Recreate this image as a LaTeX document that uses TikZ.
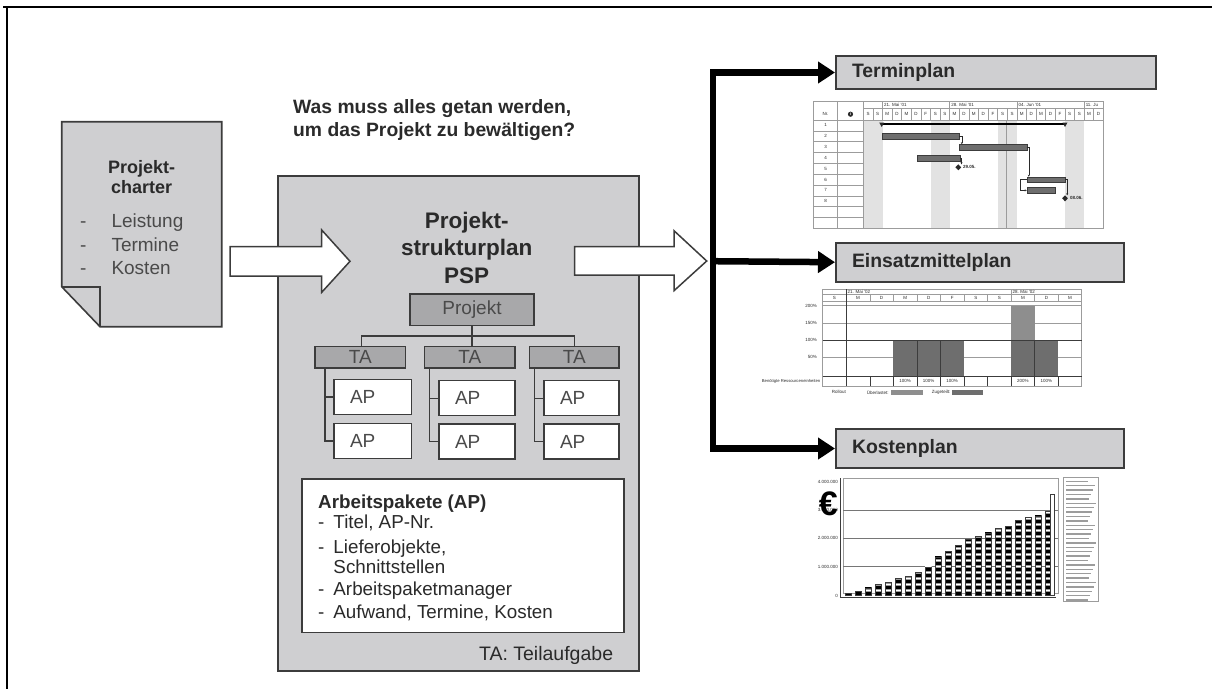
\documentclass[tikz,border=0pt]{standalone}
\usepackage{fontspec}
\setmainfont{Liberation Sans}
\usetikzlibrary{arrows.meta,calc}
\definecolor{boxgray}{HTML}{CFCFD1}
\definecolor{darkgraytwo}{HTML}{A8A8AA}
\definecolor{edge}{HTML}{3C3C3C}
\definecolor{ink}{HTML}{2A2A2A}
\definecolor{softink}{HTML}{4A4A4A}
\definecolor{chartline}{HTML}{9C9C9C}
\definecolor{weekend}{HTML}{E2E2E2}
\definecolor{barg}{HTML}{6E6E6E}
\definecolor{overg}{HTML}{8E8E8E}
\newcommand\myfs[1]{\fontsize{#1}{#1}\selectfont}
\begin{document}
\begin{tikzpicture}[x=1pt,y=-1pt,
 gbox/.style={draw=edge,fill=boxgray,line width=1.6pt},
 tbox/.style={draw=edge,fill=darkgraytwo,line width=1.4pt,inner sep=0pt,font=\myfs{19},text=softink,anchor=north west},
 apbox/.style={draw=edge,fill=white,line width=1.4pt,inner sep=0pt,anchor=north west,align=left,font=\myfs{19},text=softink,inner xsep=16pt},
 hdr/.style={draw=edge,fill=boxgray,line width=2pt,anchor=north west,align=left,inner xsep=16pt,inner ysep=0pt,font=\bfseries\myfs{19.4},text=ink},
 tree/.style={draw=edge,line width=1.2pt},
 blockarrow/.style={draw=edge,fill=white,line width=1.5pt,line join=miter},
 bigconn/.style={line width=6.5pt,line join=miter,-{Triangle[length=17pt,width=21pt]}},
 cl/.style={draw=chartline,line width=0.6pt},
 tiny/.style={font=\myfs{4.5},inner sep=0pt,text=ink},
 gbar/.style={fill=barg,draw=edge,line width=0.4pt},
 dep/.style={draw=ink,line width=0.5pt,-{Stealth[length=2pt,width=2pt]}},
]
\useasboundingbox (0,0) rectangle (1212,689);
% frame
\draw[line width=2.2pt] (3,7) -- (1212,7);
\draw[line width=2.2pt] (7,6) -- (7,689);

% ---------------- Projektcharter document
\draw[gbox,line join=miter] (61.7,121.7) -- (221.7,121.7) -- (221.7,326.7) -- (100,326.7) -- (61.7,286.7) -- cycle;
\draw[draw=edge,line width=1.6pt] (61.7,286.7) -- (100,286.7) -- (100,326.7);
\node[font=\bfseries\fontsize{18}{20}\selectfont,align=center,text=ink] (charter) at (141.7,176.7) {Projekt-\\charter};
\node[anchor=west,inner sep=0pt,font=\fontsize{19}{23.5}\selectfont,text=softink] (chlist) at (80,246.7)
 {\begin{tabular}{@{}l@{\hspace{25pt}}l@{}}-&Leistung\\-&Termine\\-&Kosten\end{tabular}};

% ---------------- question
\node[anchor=west,align=left,inner sep=0pt,font=\bfseries\fontsize{19.3}{23.7}\selectfont,text=ink] (question) at (293,120)
 {Was muss alles getan werden,\\um das Projekt zu bewältigen?};

% ---------------- PSP box
\node[gbox,anchor=north west,minimum width=361pt,minimum height=495pt,inner sep=0pt] (psp) at (277,175) {};
\node[font=\bfseries\fontsize{22.5}{27.5}\selectfont,align=center,text=ink] (psptitle) at (466.7,247.5) {Projekt-\\strukturplan\\PSP};

% block arrows
\coordinate (a1s) at (230,261.3);
\coordinate (a1t) at (350,261.3);
\draw[blockarrow] (a1s) ++(0,-14.6) -- ++(91.7,0) -- ++(0,-16.7) -- (a1t) -- ++(-28.3,31) -- ++(0,-16.3) -- ++(-91.7,0) -- cycle;
\coordinate (a2s) at (574.5,261);
\coordinate (a2t) at (706.7,261);
\draw[blockarrow] (a2s) ++(0,-14.3) -- ++(99.5,0) -- ++(0,-16) -- (a2t) -- ++(-32.7,29.7) -- ++(0,-15.7) -- ++(-99.5,0) -- cycle;

% tree
\node[tbox,minimum width=124pt,minimum height=31.7pt] (proj) at (409.3,293.3) {Projekt};
\node[tbox,minimum width=90.7pt,minimum height=21.3pt] (ta1) at (314.3,346) {TA};
\node[tbox,minimum width=90.3pt,minimum height=21.3pt] (ta2) at (424,346) {TA};
\node[tbox,minimum width=89.3pt,minimum height=21.3pt] (ta3) at (529,346) {TA};
\draw[tree] (proj.south) -- (proj.south |- ta2.north);
\draw[tree] ($(ta1.north)+(1,0)$) -- ++(0,-10) -| ($(ta3.north)+(0,0)$);

\node[apbox,text width=45.7pt,minimum height=35pt] (ap11) at (333.3,378.8) {AP};
\node[apbox,text width=45.7pt,minimum height=35pt] (ap12) at (333.3,422.7) {AP};
\node[apbox,text width=44pt,minimum height=35pt] (ap21) at (438.3,380) {AP};
\node[apbox,text width=44pt,minimum height=35pt] (ap22) at (438.3,423.3) {AP};
\node[apbox,text width=43pt,minimum height=35pt] (ap31) at (543.3,380) {AP};
\node[apbox,text width=43pt,minimum height=35pt] (ap32) at (543.3,423.3) {AP};
\coordinate (t1) at ($(ta1.south west)+(10.7,0)$);
\coordinate (t2) at ($(ta2.south west)+(5.3,0)$);
\coordinate (t3) at ($(ta3.south west)+(5.3,0)$);
\draw[tree] (t1) |- (ap12.west); \draw[tree] (t1 |- ap11.west) -- (ap11.west);
\draw[tree] (t2) |- (ap22.west); \draw[tree] (t2 |- ap21.west) -- (ap21.west);
\draw[tree] (t3) |- (ap32.west); \draw[tree] (t3 |- ap31.west) -- (ap31.west);

% AP description
\node[draw=edge,fill=white,line width=1.6pt,anchor=north west,minimum width=322.3pt,minimum height=153.4pt,inner sep=0pt] (apdesc) at (301,478.3) {};
\node[anchor=north west,inner sep=0pt,font=\fontsize{18.8}{20.5}\selectfont,text=ink] (aptext) at (318,493.5)
 {\begin{tabular}{@{}l@{\hspace{9pt}}l@{}}
 \multicolumn{2}{@{}l}{\bfseries Arbeitspakete (AP)}\\
 -&Titel, AP-Nr.\\[4pt]
 -&Lieferobjekte,\\
  &Schnittstellen\\[1.5pt]
 -&Arbeitspaketmanager\\[2.5pt]
 -&Aufwand, Termine, Kosten
 \end{tabular}};
\node[anchor=east,inner sep=0pt,font=\myfs{19.5},text=ink] (tanote) at (613.3,655) {TA: Teilaufgabe};

% ---------------- plan headers and thick connectors
\node[hdr,text width=288pt,minimum height=33pt] (termin) at (835,55) {Terminplan};
\node[hdr,text width=256pt,minimum height=39pt] (einsatz) at (835,241.7) {Einsatzmittelplan};
\node[hdr,text width=256pt,minimum height=38.4pt] (kosten) at (835,428.3) {Kostenplan};
\coordinate (jn) at (713,261.2);
\draw[bigconn] (jn) |- (termin.west);
\draw[bigconn] (jn) -- (einsatz.west);
\draw[bigconn] (jn) |- (kosten.west);

% ---------------- Gantt chart
\foreach \d in {0,1,7,8,14,15,21,22} \fill[weekend] ({863.3+\d*9.6},120) rectangle ++(9.6,108.3);
\draw[cl] (813.3,101.7) rectangle (1103.3,228.3);
\draw[cl] (837.7,101.7) -- (837.7,228.3);
\draw[cl] (863.3,101.7) -- (863.3,228.3);
\draw[cl] (863.3,108.3) -- (1103.3,108.3);
\draw[cl] (813.3,120) -- (1103.3,120);
\foreach \i in {1,...,9} \draw[cl] (813.3,{120+\i*10.83}) -- (863.3,{120+\i*10.83});
\foreach \d in {1,...,24} \draw[cl] ({863.3+\d*9.6},108.3) -- ++(0,11.7);
\foreach \d in {2,9,16,23} \draw[cl] ({863.3+\d*9.6},101.7) -- ++(0,6.6);
\draw[cl] (1006.5,120) -- (1006.5,228.3);
\foreach \l [count=\i from 0] in {S,S,M,D,M,D,F,S,S,M,D,M,D,F,S,S,M,D,M,D,F,S,S,M,D}
  \node[tiny] (gday\i) at ({863.3+(\i+0.5)*9.6},114.2) {\l};
\node[tiny,anchor=west] (gw1) at ({863.3+2*9.6+1.5},105) {21. Mai '01};
\node[tiny,anchor=west] (gw2) at ({863.3+9*9.6+1.5},105) {28. Mai '01};
\node[tiny,anchor=west] (gw3) at ({863.3+16*9.6+1.5},105) {04. Jun '01};
\node[tiny,anchor=west] (gw4) at ({863.3+23*9.6+1.5},105) {11. Ju};
\node[tiny] (gnr) at (825.5,114.2) {Nr.};
\fill[ink] (850.5,114.2) circle (2.6);
\node[tiny,text=white,font=\bfseries\myfs{4}] (ginfo) at (850.5,114.2) {i};
\foreach \i in {1,...,8} \node[tiny] (grow\i) at (825.5,{120+(\i-0.5)*10.83}) {\i};
\draw[line width=2pt] (881.7,123.5) -- (1065,123.5);
\fill[ink] (879.2,122.5) -- (884.2,122.5) -- (881.7,127) -- cycle;
\fill[ink] (1062.5,122.5) -- (1067.5,122.5) -- (1065,127) -- cycle;
\draw[gbar] (881.7,133.4) rectangle (959.3,139.1);
\draw[gbar] (959.3,144.2) rectangle (1026.7,150);
\draw[gbar] (916.7,155) rectangle (960,160.8);
\draw[gbar] (1026.7,176.7) rectangle (1065,182.5);
\draw[gbar] (1026.7,187.5) rectangle (1055,193.3);
\fill[ink] (958.3,164.3) -- (961.2,167.3) -- (958.3,170.3) -- (955.4,167.3) -- cycle;
\fill[ink] (1065,195.3) -- (1067.9,198.3) -- (1065,201.3) -- (1062.1,198.3) -- cycle;
\node[tiny,anchor=west,font=\bfseries\myfs{4.5}] (gm1) at (963,167.3) {29.05.};
\node[tiny,anchor=west,font=\bfseries\myfs{4.5}] (gm2) at (1070,198.3) {08.06.};
\draw[dep] (959.3,136.2) -- (961.8,136.2) -- (961.8,144.2);
\draw[dep] (960,157.9) -- (961.5,157.9) -- (961.5,164.3);
\draw[dep] (1026.7,147.1) -- (1028.8,147.1) -- (1028.8,176.7);
\draw[dep] (1026.7,179.6) -- (1020.5,179.6) -- (1020.5,190.4) -- (1026.7,190.4);
\draw[dep] (1065,179.6) -- (1067.2,179.6) -- (1067.2,195.3);

% ---------------- resource chart
\draw[cl] (822.7,289.3) rectangle (1081.7,386);
\draw[cl] (822.7,294) -- (1081.7,294);
\draw[cl] (822.7,301.7) -- (1081.7,301.7);
\foreach \k in {1,...,10} \draw[cl] ({822.7+\k*23.55},294) -- ++(0,7.7);
\foreach \k in {1,8} \draw[cl] ({822.7+\k*23.55},289.3) -- ++(0,4.7);
\foreach \y in {305.7,323.3,357.3} \draw[cl] (822.7,\y) -- (1081.7,\y);
\fill[barg] ({822.7+3*23.55},340) rectangle ({822.7+6*23.55},376.7);
\fill[overg] ({822.7+8*23.55},305.7) rectangle ({822.7+9*23.55},340);
\fill[barg] ({822.7+8*23.55},340) rectangle ({822.7+10*23.55},376.7);
\foreach \k in {4,5,9} \draw[edge,line width=0.5pt] ({822.7+\k*23.55},340) -- ++(0,36.7);
\draw[edge,line width=1pt] (822.7,340) -- (1081.7,340);
\draw[cl,draw=edge] (822.7,376.7) -- (1081.7,376.7);
\draw[cl,draw=edge] (846.25,289.3) -- (846.25,386);
\foreach \k in {2,...,10} \draw[cl,draw=edge] ({822.7+\k*23.55},376.7) -- ++(0,9.3);
\foreach \l [count=\i from 0] in {S,M,D,M,D,F,S,S,M,D,M}
  \node[tiny] (rday\i) at ({822.7+(\i+0.5)*23.55},297.9) {\l};
\node[tiny,anchor=west] (rw1) at (847.5,291.7) {21. Mai '02};
\node[tiny,anchor=west] (rw2) at (1012.3,291.7) {28. Mai '02};
\node[tiny,anchor=east] (ry200) at (817,305.7) {200\%};
\node[tiny,anchor=east] (ry150) at (817,323.3) {150\%};
\node[tiny,anchor=east] (ry100) at (817,340) {100\%};
\node[tiny,anchor=east] (ry50) at (817,357.3) {50\%};
\node[tiny,anchor=east,font=\myfs{4.2}] (rrow) at (820.5,381.3) {Benötigte Ressourceneinheiten};
\foreach \k/\v in {3/100,4/100,5/100,8/200,9/100}
  \node[tiny] (rv\k) at ({822.7+(\k+0.5)*23.55},381.3) {\v\%};
\node[tiny,anchor=west] (rl1) at (831.7,392.3) {Rollout};
\node[tiny,anchor=west] (rl2) at (866.7,392.3) {Überlastet:};
\fill[overg] (890.7,390.2) rectangle (923.3,394.5);
\node[tiny,anchor=west] (rl3) at (931.7,392.3) {Zugeteilt:};
\fill[barg] (952.3,390.2) rectangle (983.3,394.5);

% ---------------- cost chart
\draw[cl,line width=0.8pt] (843.3,478.3) rectangle (1058.3,593);
\draw[edge,line width=0.8pt] (840.5,478.3) -- (840.5,597) -- (1056,597);
\foreach \y in {510,538.3,566.7} \draw[draw=edge!70,line width=0.8pt] (843.3,\y) -- (1058.3,\y);
\foreach \v [count=\i from 0] in {0.05,0.12,0.25,0.38,0.44,0.58,0.67,0.82,1.0,1.35,1.55,1.76,1.96,2.08,2.2,2.35,2.43,2.66,2.75,2.8,2.95}{
  \begin{scope}
  \clip ({845+\i*10},595) rectangle ++(6.5,{-\v*28.3});
  \fill[black!40] ({845+\i*10},595) rectangle ++(6.5,{-\v*28.3});
  \foreach \k in {0,...,15} \fill[black] ({845+\i*10},{595-\k*6}) rectangle ++(6.5,-2.6);
  \foreach \k in {0,...,15} \fill[white] ({845+\i*10},{595-\k*6-3.8}) rectangle ++(6.5,-1.2);
  \end{scope}
  \draw[edge,line width=0.4pt] ({845+\i*10},595) rectangle ++(6.5,{-\v*28.3});
}
\draw[edge,fill=white,line width=0.5pt] (1050,595) rectangle (1054.5,494);
\node[tiny,anchor=east] (ky4) at (838,481.7) {4.000.000};
\node[tiny,anchor=east] (ky3) at (838,510) {3.000.000};
\node[tiny,anchor=east] (ky2) at (838,538.3) {2.000.000};
\node[tiny,anchor=east] (ky1) at (838,566.7) {1.000.000};
\node[tiny,anchor=east] (ky0) at (838,596) {0};
\node[font=\bfseries\myfs{34},text=black,inner sep=0pt] (euro) at (828.3,504) {€};
\draw[cl,fill=white] (1063.3,477.3) rectangle (1098.3,601.7);
\foreach \k in {0,...,27} \fill[chartline] (1065.5,{480.5+\k*4.4}) rectangle ++({22+mod(\k*7,9)},1.4);
\end{tikzpicture}
\end{document}
